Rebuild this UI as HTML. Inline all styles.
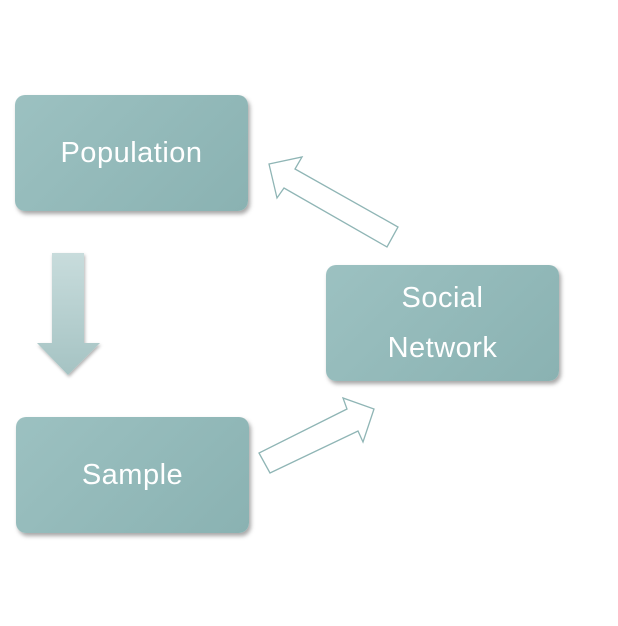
<!DOCTYPE html>
<html><head><style>
body{margin:0;width:618px;height:626px;background:#fff;position:relative;overflow:hidden;font-family:"Liberation Sans","DejaVu Sans",sans-serif}
.b{position:absolute;width:233px;height:116px;border-radius:10px;background:linear-gradient(135deg,#9cc1c1,#8ab2b2);box-shadow:2px 3px 4px rgba(0,0,0,0.35);color:#fff;font-size:29px;letter-spacing:0.5px;display:flex;align-items:center;justify-content:center;text-align:center;line-height:50px}
</style></head><body>
<div class="b" style="left:15px;top:95px">Population</div>
<div class="b" style="left:326px;top:265px">Social<br>Network</div>
<div class="b" style="left:16px;top:417px">Sample</div>
<svg width="618" height="626" style="position:absolute;left:0;top:0">
<defs><linearGradient id="g" x1="0" y1="0" x2="0" y2="1"><stop offset="0" stop-color="#c8dcdc"/><stop offset="1" stop-color="#a5c3c3"/></linearGradient>
<filter id="s"><feDropShadow dx="1" dy="2" stdDeviation="1.5" flood-opacity="0.3"/></filter></defs>
<polygon filter="url(#s)" fill="url(#g)" points="52,253 84,253 84,343 100,343 68,375 37,343 52,343"/>
<polygon fill="#fff" stroke="#8fb5b5" stroke-width="1.3" points="269,164 302,157 295,169 398,227 387,247 284,188 277,198"/>
<polygon fill="#fff" stroke="#8fb5b5" stroke-width="1.3" points="259,453 270,473 358,431 363,442 374,409 343,398 347,409"/>
</svg>
</body></html>
